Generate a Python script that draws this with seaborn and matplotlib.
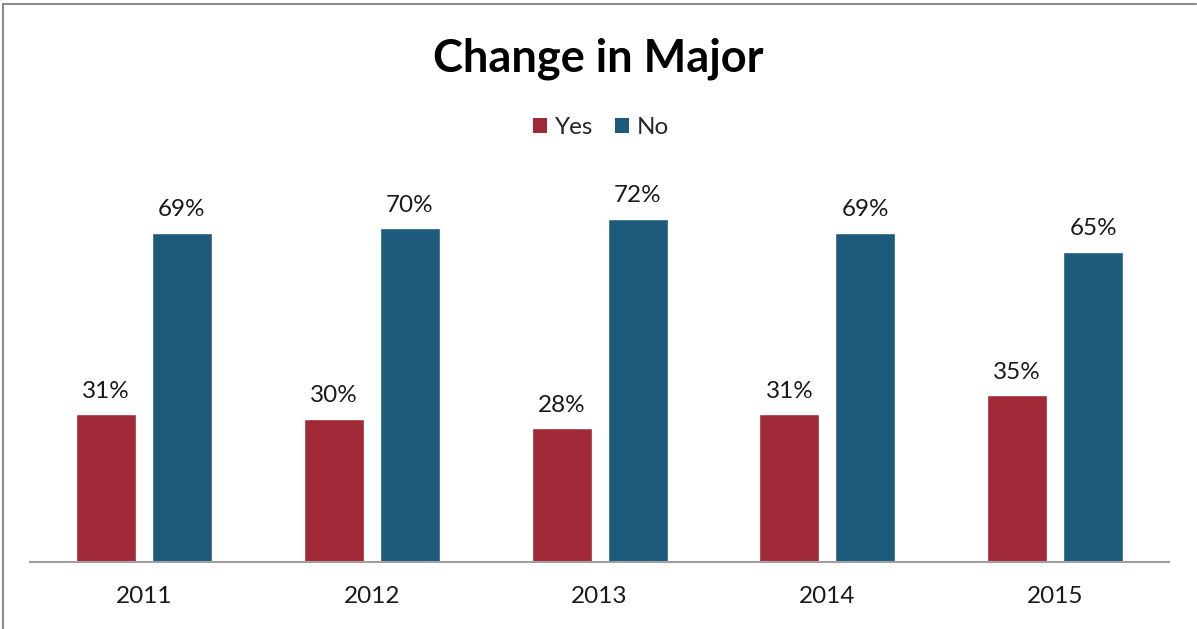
import matplotlib
matplotlib.use("Agg")
import matplotlib.pyplot as plt
from matplotlib.lines import Line2D
from matplotlib.patches import Patch
import seaborn as sns
import pandas as pd

years = ["2011", "2012", "2013", "2014", "2015"]
yes_pct = [31, 30, 28, 31, 35]
no_pct = [69, 70, 72, 69, 65]
series_names = ["Yes", "No"]
series_colors = ["#A12937", "#1E5A7B"]

df = pd.DataFrame({
    "Year": years * 2,
    "Response": ["Yes"] * len(years) + ["No"] * len(years),
    "Percent": yes_pct + no_pct,
})

sns.set_theme(style="white")
plt.rcParams["font.family"] = ["Lato", "DejaVu Sans"]

fig = plt.figure(figsize=(11.97, 6.29), dpi=100)
ax = fig.add_axes([0.0251, 0.1065, 0.9516, 0.6105])

sns.barplot(
    data=df, x="Year", y="Percent", hue="Response",
    hue_order=series_names, palette=series_colors,
    width=0.667, gap=0.21, saturation=1, ax=ax, legend=False,
)

for container in ax.containers:
    ax.bar_label(container, labels=[f"{v:.0f}%" for v in container.datavalues],
                 padding=9, fontsize=17.5, color="#1a1a1a")

ax.set_ylim(0, 80.5)
ax.set_xlim(-0.5, len(years) - 0.5)
ax.set_xlabel("")
ax.set_ylabel("")
ax.set_yticks([])
ax.tick_params(axis="x", length=0, pad=17, labelsize=17.5, labelcolor="#1a1a1a")
for side in ["top", "right", "left"]:
    ax.spines[side].set_visible(False)
ax.spines["bottom"].set_color("#a0a0a0")
ax.spines["bottom"].set_linewidth(1.5)

fig.suptitle("Change in Major", x=0.5, y=0.94, fontsize=32.5, fontweight="bold", color="#000000")

handles = [Patch(facecolor=c, edgecolor="none") for c in series_colors]
fig.legend(handles, series_names, loc="center", bbox_to_anchor=(0.502, 0.797),
           ncol=2, frameon=False, fontsize=17.5, handlelength=0.6, handleheight=0.6,
           handletextpad=0.3, columnspacing=0.9)

# thin frame along the top and left edges
fig.add_artist(Line2D([0.0025, 0.999], [0.9935, 0.9935], color="#8c8c8c", lw=1.5,
                      transform=fig.transFigure))
fig.add_artist(Line2D([0.0025, 0.0025], [0.0, 0.9935], color="#8c8c8c", lw=1.5,
                      transform=fig.transFigure))

fig.savefig("out.png", dpi=100, facecolor="white")
